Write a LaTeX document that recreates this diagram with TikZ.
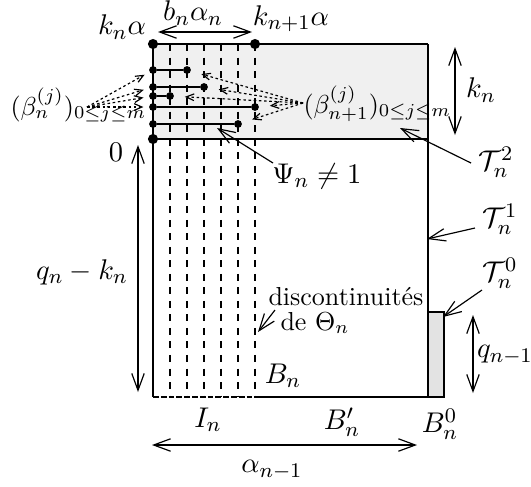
\documentclass[tikz,border=0pt]{standalone}
\usetikzlibrary{arrows.meta}
\definecolor{lightg}{gray}{0.94}
\definecolor{boxg}{gray}{0.89}
\begin{document}
\begin{tikzpicture}[x=0.3846pt,y=-0.3846pt,
  thinl/.style={line width=0.55pt},
  thickl/.style={line width=0.8pt},
  seg/.style={line width=0.6pt},
  arr/.style={line width=0.45pt,-{Straight Barb[length=6.5pt,width=4.8pt]}},
  darr/.style={line width=0.45pt,{Straight Barb[length=6.5pt,width=4.8pt]}-{Straight Barb[length=6.5pt,width=4.8pt]}},
  dotarr/.style={line width=0.45pt,dash pattern=on 1pt off 1pt,-{Straight Barb[length=3pt,width=2.6pt]}},
  bigdot/.style={circle,fill,inner sep=0pt,minimum size=3.9pt},
  smalldot/.style={circle,fill,inner sep=0pt,minimum size=3pt},
  vdash/.style={line width=0.5pt,dash pattern=on 2.7pt off 2.5pt},
  lab/.style={inner sep=0pt},
  mlab/.style={inner sep=0pt,font=\fontsize{11}{13}\selectfont}
]
\useasboundingbox (0,0) rectangle (531,486);
% regions
\fill[lightg] (153,44) rectangle (428,139);
% dashed verticals
\foreach \x in {170,187,204,221,238,255}
  \draw[vdash] (\x,44) -- (\x,397);
% outline
\draw[thickl] (153,44) -- (428,44);
\draw[thinl] (153,44) -- (153,397);
\draw[line width=0.6pt] (428,44) -- (428,397);
\draw[thickl] (153,139) -- (428,139);
\filldraw[fill=boxg,line width=0.6pt] (428,312) rectangle (444,397);
\draw[thickl] (255,397) -- (444,397);
\draw[thickl,dash pattern=on 2.2pt off 0.8pt] (153,397) -- (255,397);
% dots
\node[bigdot] (tl) at (153,44) {};
\node[bigdot] (tr) at (255,44) {};
\node[bigdot] (z) at (153,139) {};
\node[smalldot] (l1) at (153,70) {};
\node[smalldot] (l2) at (153,87) {};
\node[smalldot] (l3) at (153,96) {};
\node[smalldot] (l4) at (153,107) {};
\node[smalldot] (l5) at (153,124) {};
\node[smalldot] (r1) at (187,70) {};
\node[smalldot] (r2) at (204,87) {};
\node[smalldot] (r3) at (170,96) {};
\node[smalldot] (r4) at (255,107) {};
\node[smalldot] (r5) at (238,124) {};
\draw[seg] (l1) -- (r1);
\draw[seg] (l2) -- (r2);
\draw[seg] (l3) -- (r3);
\draw[seg] (l4) -- (r4);
\draw[seg] (l5) -- (r5);
% top labels
\node[mlab] (kna) at (122,27) {$k_n\alpha$};
\node[mlab] (bnan) at (193,13) {$b_n\alpha_n$};
\node[mlab] (kn1a) at (291,19) {$k_{n+1}\alpha$};
\coordinate (a1) at (158,32);
\coordinate (a2) at (252,32);
\draw[darr] (a1) -- (a2);
% beta labels
\node[lab,anchor=base west] (betan) at (10,115) {$(\beta_n^{(j)})_{0\le j\le m}$};
\node[lab,anchor=base west] (betan1) at (303,113) {$(\beta_{n+1}^{(j)})_{0\le j\le m}$};
\coordinate (sL) at (87,107);
\coordinate (sR) at (303,103);
\foreach \t in {l1,l2,l3,l4}
  \draw[dotarr,shorten >=2pt] (sL) -- (\t);
\foreach \t in {r1,r2,r3,r4,r5}
  \draw[dotarr,shorten >=4pt] (sR) -- (\t);
% Psi
\node[mlab] (psi) at (317,176) {$\Psi_n\neq 1$};
\coordinate (psis) at (273,163);
\coordinate (psit) at (217,128);
\draw[arr] (psis) -- (psit);
% T labels
\node[mlab] (t2) at (496,162) {$\mathcal{T}_n^2$};
\coordinate (t2s) at (471,163);
\coordinate (t2t) at (400,128);
\draw[arr] (t2s) -- (t2t);
\node[mlab] (t1) at (500,219) {$\mathcal{T}_n^1$};
\coordinate (t1s) at (475,228);
\coordinate (t1t) at (427,239);
\draw[arr] (t1s) -- (t1t);
\node[mlab] (t0) at (500,273) {$\mathcal{T}_n^0$};
\coordinate (t0s) at (482,290);
\coordinate (t0t) at (443,317);
\draw[arr] (t0s) -- (t0t);
% right side
\node[mlab] (knr) at (481,90) {$k_n$};
\coordinate (k1) at (455,47);
\coordinate (k2) at (455,135);
\draw[darr] (k1) -- (k2);
\node[mlab] (qn1) at (505,355) {$q_{n-1}$};
\coordinate (q1) at (473,315);
\coordinate (q2) at (473,393);
\draw[darr] (q1) -- (q2);
% left side
\node[mlab] (zero) at (116,152) {$0$};
\node[mlab] (qk) at (82,272) {$q_n-k_n$};
\coordinate (qk1) at (138,145);
\coordinate (qk2) at (138,392);
\draw[darr] (qk1) -- (qk2);
% discontinuities
\node[lab,anchor=base west] (disc) at (268,305) {discontinuit\'es};
\node[lab,anchor=base west] (deth) at (280,330) {de $\Theta_n$};
\coordinate (ds) at (275,310);
\coordinate (dt) at (258,332);
\draw[arr] (ds) -- (dt);
% bottom labels
\node[mlab] (bn) at (283,376) {$B_n$};
\node[mlab] (in) at (208,420) {$I_n$};
\node[mlab] (bnp) at (342,422) {$B'_n$};
\node[mlab] (bn0) at (440,424) {$B_n^0$};
\node[mlab] (alph) at (272,470) {$\alpha_{n-1}$};
\coordinate (al1) at (152,445);
\coordinate (al2) at (417,445);
\draw[darr] (al1) -- (al2);
\end{tikzpicture}
\end{document}
